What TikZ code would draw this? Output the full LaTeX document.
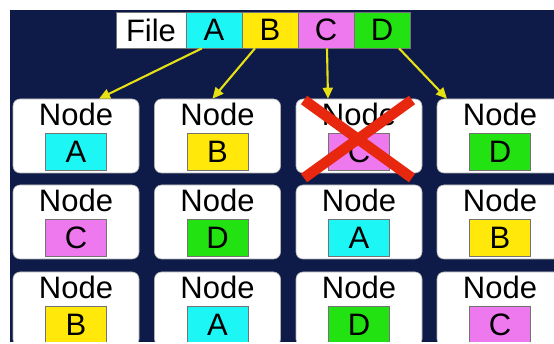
\documentclass[tikz,border=0pt]{standalone}
\usepackage{fontspec}
\setmainfont{Liberation Sans}
\usetikzlibrary{calc,arrows.meta}
\definecolor{navy}{HTML}{0E1B48}
\definecolor{cA}{HTML}{1CF7F5}
\definecolor{cB}{HTML}{FFE80A}
\definecolor{cC}{HTML}{EE78EE}
\definecolor{cD}{HTML}{22E212}
\definecolor{xred}{HTML}{E8280E}
\definecolor{arr}{HTML}{E6E014}
\begin{document}
\begin{tikzpicture}[x=1pt,y=-1pt,
  big/.style={font=\fontsize{31}{31}\selectfont},
  card/.style={draw=gray!60, line width=0.6pt, fill=white, rounded corners=7pt,
    minimum width=126pt, minimum height=74pt, inner sep=0pt},
  tag/.style={big, draw=black!55, line width=0.6pt, minimum width=61pt, minimum height=37pt,
    inner sep=0pt},
  word/.style={big, inner sep=0pt},
  hdr/.style={big, draw=black!55, line width=0.6pt, minimum height=36pt, minimum width=56pt,
    inner sep=0pt},
  link/.style={draw=arr, line width=2.1pt, -{Triangle[length=11pt,width=10pt]}},
  cross/.style={draw=xred, line width=10.5pt}]
\useasboundingbox (0,0) rectangle (554,344);
\fill[white] (0,0) rectangle (554,344);
\fill[navy] (10,10) rectangle (554,342);

% header: the file and its four blocks
\node[hdr, fill=white, minimum width=70pt] (hF) at (151,30) {File};
\node[hdr, fill=cA] (hA) at (214,30) {A};
\node[hdr, fill=cB] (hB) at (270,30) {B};
\node[hdr, fill=cC] (hC) at (326,30) {C};
\node[hdr, fill=cD] (hD) at (382,30) {D};

% grid of nodes, each holding one block
\begin{scope}
\clip (10,10) rectangle (554,342);
\foreach \cx/\cy/\L/\n in {
   76/136/A/11, 217.5/136/B/12, 359/136/C/13, 500/136/D/14,
   76/222/C/21, 217.5/222/D/22, 359/222/A/23, 500/222/B/24,
   76/309/B/31, 217.5/309/A/32, 359/309/D/33, 500/309/C/34}{
  \node[card] (c\n) at (\cx,\cy) {};
  \node[word, anchor=base] (w\n) at ($(c\n.center)+(0,-10)$) {Node};
  \node[tag, fill=c\L] (t\n) at ($(c\n.center)+(0,15.5)$) {\L};
}
\end{scope}

% failed node
\draw[cross] ($(c13.center)+(-55,-36)$) -- ($(c13.center)+(53,42)$);
\draw[cross] ($(c13.center)+(53,-36)$) -- ($(c13.center)+(-55,42)$);

% blocks copied from the file to the first row
\draw[link] ([xshift=-12pt]hA.south) -- ([xshift=23pt]c11.north);
\draw[link] ([xshift=-15pt]hB.south) -- ([xshift=-5pt]c12.north);
\draw[link] ([xshift=1pt]hC.south) -- ([xshift=-31pt]c13.north);
\draw[link] ([xshift=17pt]hD.south) -- ([xshift=-53pt]c14.north);
\end{tikzpicture}
\end{document}
